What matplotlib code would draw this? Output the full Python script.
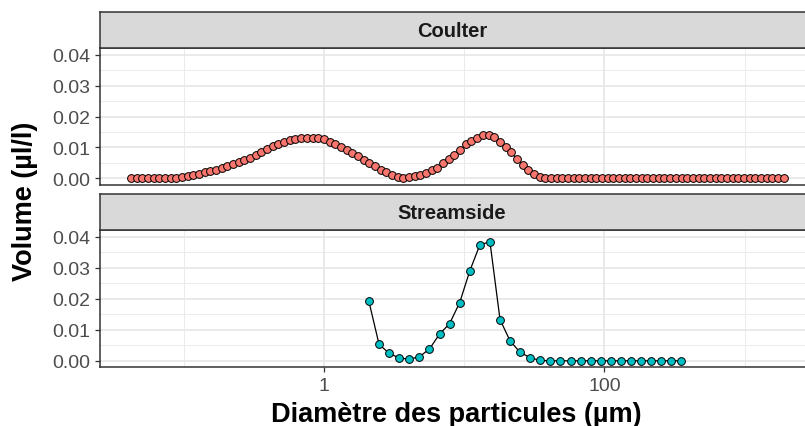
import numpy as np
import matplotlib
matplotlib.use("Agg")
import matplotlib.pyplot as plt
from matplotlib.ticker import NullFormatter

plt.rcParams['font.family'] = ['Liberation Sans', 'DejaVu Sans']

# Coulter channel bounds (um) -> points are plotted at channel centres
coulter_bounds = np.array([
    0.04, 0.0439, 0.0482, 0.0529, 0.0581, 0.0638, 0.0700, 0.0768, 0.0843, 0.0926,
    0.1016, 0.1116, 0.1225, 0.1344, 0.1476, 0.1620, 0.1778, 0.1952, 0.2143, 0.2352,
    0.2582, 0.2834, 0.3111, 0.3415, 0.3749, 0.4115, 0.4517, 0.4959, 0.5443, 0.5975,
    0.6559, 0.7200, 0.7904, 0.8676, 0.9524, 1.0455, 1.1477, 1.2598, 1.3829, 1.5180,
    1.6664, 1.8292, 2.0080, 2.2042, 2.4196, 2.6561, 2.9156, 3.2005, 3.5133, 3.8566,
    4.2335, 4.6472, 5.1013, 5.5998, 6.1470, 6.7477, 7.4071, 8.1310, 8.9255, 9.7977,
    10.755, 11.806, 12.960, 14.227, 15.617, 17.143, 18.818, 20.657, 22.676, 24.892,
    27.324, 29.994, 32.925, 36.143, 39.675, 43.552, 47.808, 52.480, 57.608, 63.238,
    69.417, 76.201, 83.647, 91.821, 100.79, 110.64, 121.46, 133.32, 146.35, 160.65,
    176.35, 193.59, 212.51, 233.27, 256.07, 281.09, 308.56, 338.71, 371.81, 408.15,
    448.03, 491.81, 539.87, 592.62, 650.53, 714.10, 783.88, 860.48, 944.57, 1036.9,
    1138.2, 1249.4, 1371.5, 1505.5, 1652.7, 1814.2, 1991.5])

coulter_vol = [
    0.0, 0.0, 0.0, 0.0, 0.0, 0.0, 0.0, 0.0001, 0.0003, 0.0005,
    0.0009, 0.0012, 0.0016, 0.0020, 0.0024, 0.0029, 0.0035, 0.0040, 0.0046, 0.0052,
    0.0059, 0.0067, 0.0076, 0.0086, 0.0096, 0.0105, 0.0112, 0.0118, 0.0123, 0.0127,
    0.0130, 0.0131, 0.0131, 0.0130, 0.0127, 0.0119, 0.0111, 0.0102, 0.0092, 0.0082,
    0.0071, 0.0060, 0.0049, 0.0039, 0.0029, 0.0020, 0.0012, 0.0006, 0.0002, 0.0004,
    0.0008, 0.0012, 0.0018, 0.0026, 0.0035, 0.0050, 0.0064, 0.0077, 0.0092, 0.0110,
    0.0122, 0.0132, 0.0139, 0.0140, 0.0133, 0.0118, 0.0103, 0.0084, 0.0063, 0.0045,
    0.0026, 0.0013, 0.0005, 0.0002, 0.0, 0.0, 0.0, 0.0, 0.0, 0.0,
    0.0, 0.0, 0.0, 0.0, 0.0, 0.0, 0.0, 0.0, 0.0, 0.0,
    0.0, 0.0, 0.0, 0.0, 0.0, 0.0, 0.0, 0.0, 0.0, 0.0,
    0.0, 0.0, 0.0, 0.0, 0.0, 0.0, 0.0, 0.0, 0.0, 0.0,
    0.0, 0.0, 0.0, 0.0, 0.0, 0.0]

stream_size = [2.09, 2.47, 2.92, 3.44, 4.06, 4.79, 5.65, 6.67, 7.87, 9.29,
               10.96, 12.93, 15.26, 18.01, 21.25, 25.07, 29.59, 34.91, 41.2, 48.6,
               57.4, 67.7, 79.9, 94.3, 111.2, 131.3, 154.9, 182.8, 215.7, 254.5,
               300.3, 354.4]
stream_vol = [0.0192, 0.0053, 0.0024, 0.0009, 0.0005, 0.0013, 0.0038, 0.0086, 0.0120, 0.0188,
              0.0290, 0.0374, 0.0384, 0.0133, 0.0064, 0.0027, 0.0010, 0.0001, 0.0, 0.0,
              0.0, 0.0, 0.0, 0.0, 0.0, 0.0, 0.0, 0.0, 0.0, 0.0,
              0.0, 0.0]

coulter_size = np.sqrt(coulter_bounds[:-1] * coulter_bounds[1:])

panels = [("Coulter", coulter_size, coulter_vol, "#F8766D"),
          ("Streamside", stream_size, stream_vol, "#00BFC4")]

W, H = 805, 427
fig = plt.figure(figsize=(W / 100, H / 100), dpi=100)

# pixel boxes: (panel top, panel bottom, strip top)
boxes = [(49.0, 186.0, 13.3), (231.3, 368.3, 195.0)]
left, right = 100.0, 812.0

for k, (name, xs, ys, col) in enumerate(panels):
    ptop, pbot, stop = boxes[k]
    ax = fig.add_axes([left / W, 1 - pbot / H, (right - left) / W, (pbot - ptop) / H])
    ax.set_xscale("log")
    ax.set_xlim(10 ** ((left - 324) / 140.2), 10 ** ((right - 324) / 140.2))
    ax.set_ylim(-0.0021, 0.0421)
    ax.set_xticks([1, 100])
    ax.set_xticks([0.1, 10, 1000], minor=True)
    ax.xaxis.set_minor_formatter(NullFormatter())
    ax.set_yticks([0, 0.01, 0.02, 0.03, 0.04])
    ax.set_yticks([0.005, 0.015, 0.025, 0.035], minor=True)
    ax.grid(True, which="major", color="#E6E6E6", lw=1.2)
    ax.grid(True, which="minor", color="#EBEBEB", lw=0.7)
    ax.set_axisbelow(True)
    ax.plot(xs, ys, color="black", lw=0.9, zorder=2)
    ax.plot(xs, ys, "o", ms=5.6, mfc=col, mec="black", mew=0.7, zorder=3)
    for s in ax.spines.values():
        s.set_color("#333333")
        s.set_linewidth(1.1)
    ax.tick_params(which="minor", length=0)
    ax.tick_params(which="major", length=3.6, width=0.9, color="#333333",
                   labelcolor="#4D4D4D", labelsize=14, pad=3.2)
    ax.set_yticklabels(["0.00", "0.01", "0.02", "0.03", "0.04"])
    if k == 0:
        ax.tick_params(axis="x", which="both", bottom=False, labelbottom=False)
    else:
        ax.set_xticklabels(["1", "100"])

    sax = fig.add_axes([left / W, 1 - ptop / H, (right - left) / W, (ptop - stop) / H])
    sax.set_facecolor("#D9D9D9")
    sax.set_xticks([])
    sax.set_yticks([])
    for s in sax.spines.values():
        s.set_color("#333333")
        s.set_linewidth(1.1)
    fig.text(452 / W, 1 - (ptop + stop) / 2 / H, name, ha="center", va="center",
             fontsize=14.5, fontweight="bold", color="#1A1A1A")

fig.text(25 / W, 1 - 201.7 / H, "Volume (µl/l)", rotation=90, ha="center", va="center",
         fontsize=19.5, fontweight="bold")
fig.text(456.5 / W, 1 - 421.7 / H, "Diamètre des particules (µm)", ha="center",
         va="baseline", fontsize=19.5, fontweight="bold")

fig.savefig("out.png", dpi=100)
